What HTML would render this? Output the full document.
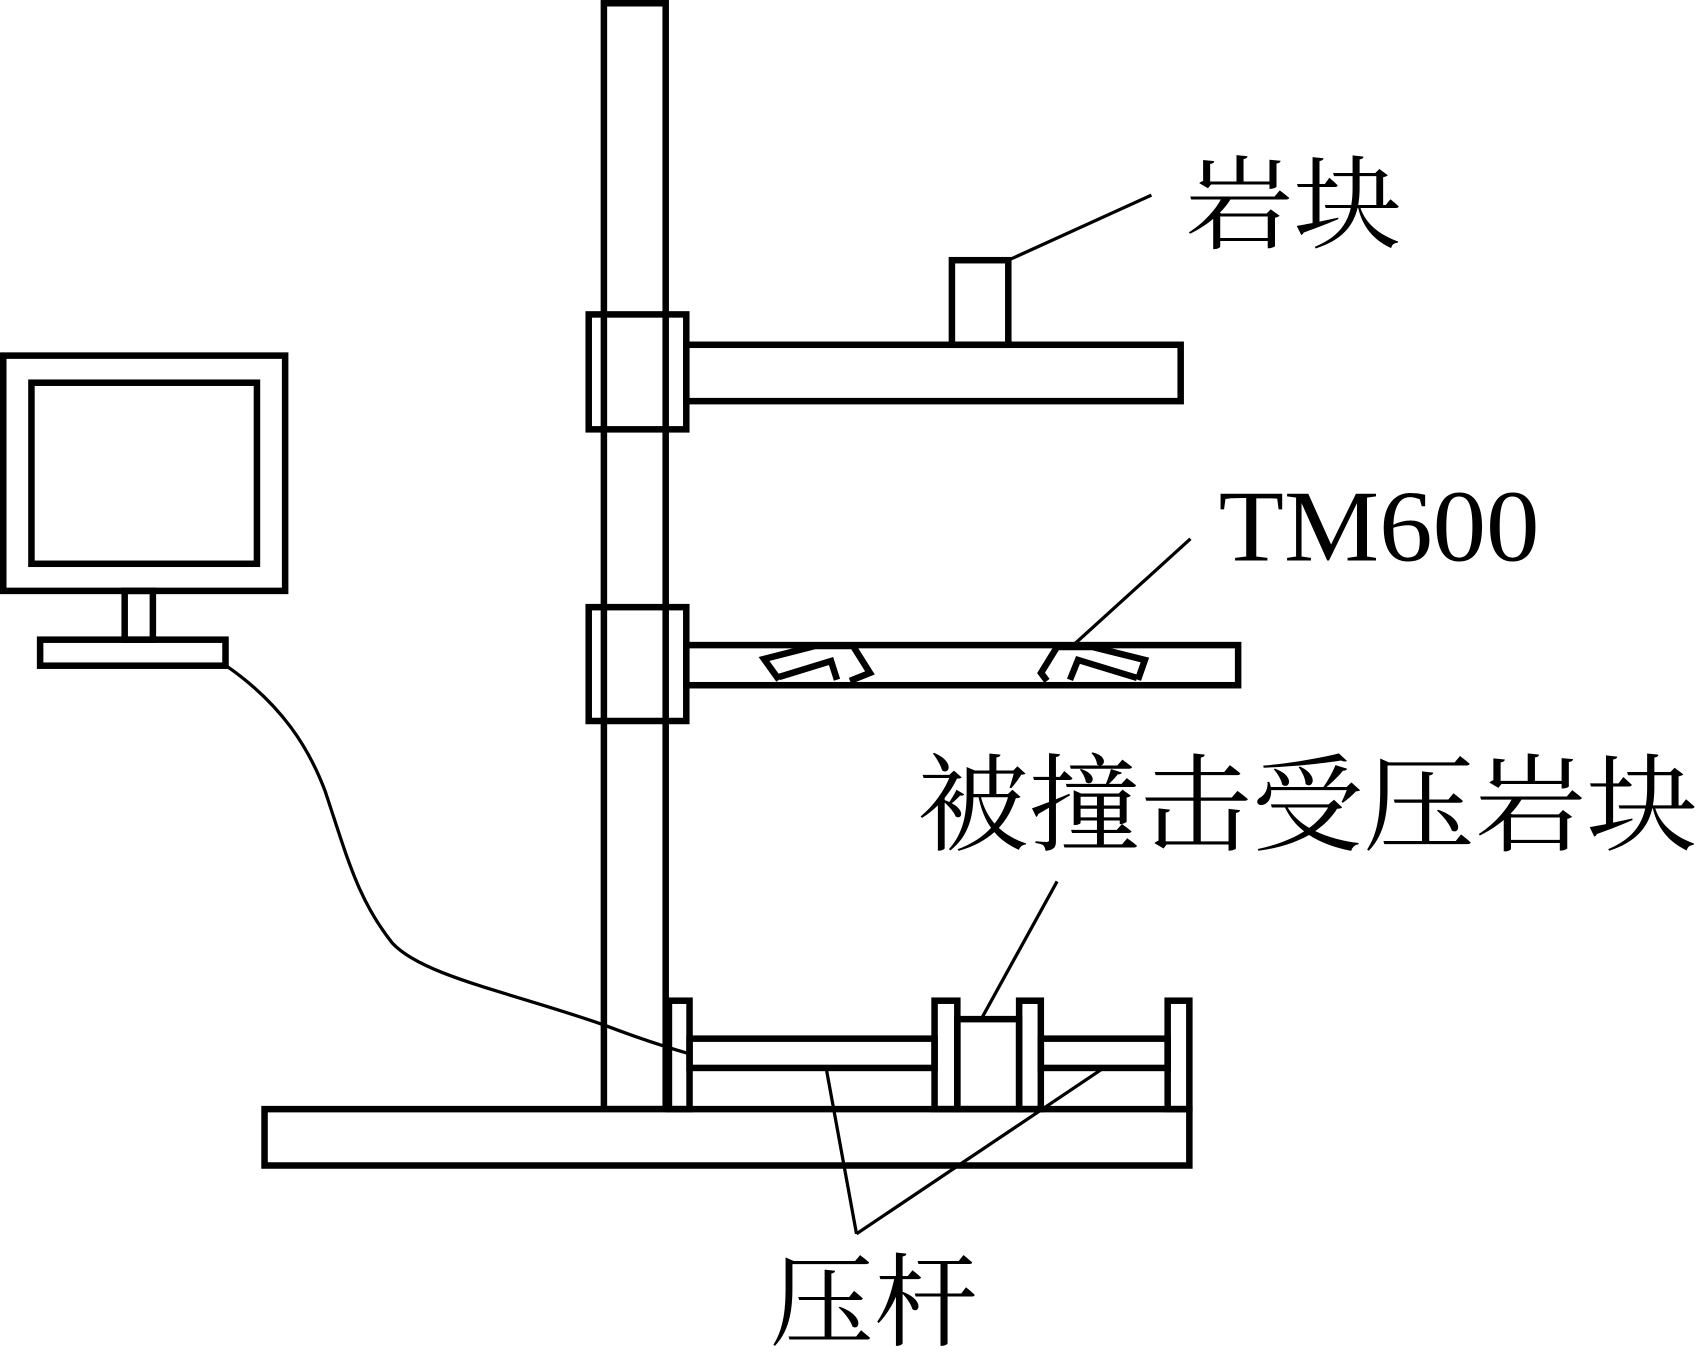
<!DOCTYPE html>
<html><head><meta charset="utf-8"><style>html,body{margin:0;padding:0;background:#fff}svg{display:block}</style></head>
<body>
<svg width="1700" height="1365" viewBox="0 0 1568 1259" preserveAspectRatio="none" xmlns="http://www.w3.org/2000/svg">
<g fill="none" stroke="#000" stroke-width="6">
<rect x="557" y="3" width="57" height="1020"/>
<rect x="543" y="290" width="90" height="106"/>
<rect x="633" y="318" width="456" height="52"/>
<rect x="878" y="240" width="52" height="78"/>
<rect x="543" y="560" width="90" height="105"/>
<rect x="633" y="595" width="509" height="37"/>
<polyline points="718.5,627 704.7,607.8 751.7,595.8 786.8,595.8 802.4,620.7 784,628"/>
<polyline points="718.5,624.4 766.5,609.7 772,627"/>
<polyline points="965.7,628 960.2,620.7 974.9,596.8 1008.1,596.8 1056,608.7 1049.6,627"/>
<polyline points="986.9,627 994.3,608.7 1048.7,625.3"/>
<rect x="244" y="1023" width="853" height="52" fill="#fff"/>
<rect x="617" y="923" width="19" height="100"/>
<rect x="636" y="958" width="226" height="27"/>
<rect x="862" y="923" width="21" height="100"/>
<rect x="883" y="940" width="57" height="83"/>
<rect x="940" y="923" width="20" height="100"/>
<rect x="960" y="958" width="117" height="27"/>
<rect x="1077" y="923" width="20" height="100"/>
<rect x="3" y="328" width="260" height="217"/>
<rect x="29" y="353" width="208" height="167"/>
<rect x="115" y="545" width="26" height="45"/>
<rect x="37" y="590" width="171" height="24"/>
</g>
<g fill="none" stroke="#000" stroke-width="3">
<path d="M210,615 C260,650 285,690 300,730 C320,790 330,830 362,870 C390,900 470,915 556,945 C590,958 615,966 636,972"/>
<line x1="930" y1="240" x2="1062" y2="180"/>
<line x1="990" y1="595" x2="1098" y2="497"/>
<line x1="905" y1="940" x2="975" y2="813"/>
<line x1="762" y1="985" x2="790" y2="1138"/>
<line x1="1018" y1="985" x2="790" y2="1138"/>
</g>
<g fill="#000" font-family="'Liberation Serif','Noto Serif CJK SC',serif">
<text x="1093" y="222" font-size="94" textLength="200" lengthAdjust="spacingAndGlyphs">岩块</text>
<text x="1124" y="517" font-size="94" textLength="296" lengthAdjust="spacingAndGlyphs">TM600</text>
<text x="846" y="777" font-size="98" textLength="720" lengthAdjust="spacingAndGlyphs">被撞击受压岩块</text>
<text x="710" y="1234" font-size="94" textLength="192" lengthAdjust="spacingAndGlyphs">压杆</text>
</g>
</svg>
</body></html>
